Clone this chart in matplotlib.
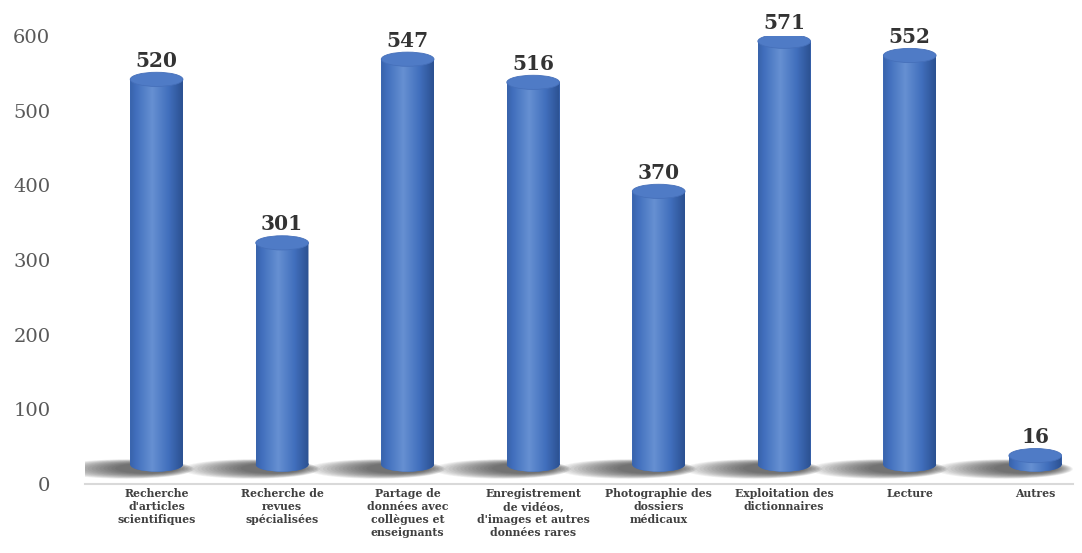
import matplotlib
matplotlib.use("Agg")
import matplotlib.pyplot as plt
from matplotlib.patches import Ellipse
from matplotlib.path import Path
import numpy as np

categories = [
    "Recherche\nd'articles\nscientifiques",
    "Recherche de\nrevues\nspécialisées",
    "Partage de\ndonnées avec\ncollègues et\nenseignants",
    "Enregistrement\nde vidéos,\nd'images et autres\ndonnées rares",
    "Photographie des\ndossiers\nmédicaux",
    "Exploitation des\ndictionnaires",
    "Lecture",
    "Autres",
]
values = [520, 301, 547, 516, 370, 571, 552, 16]

SERIF = ["DejaVu Serif"]
BAR_W = 0.42
DEPTH = 22      # décalage perspective (unités de données)
BASE = 26       # centre de l'ellipse du bas
ELL_H = 19      # hauteur des ellipses

fig = plt.figure(figsize=(10.82, 5.53), dpi=100)
ax = fig.add_axes([0.0786, 0.1248, 0.913, 0.810])

x = np.arange(len(values))

# dégradé horizontal du cylindre
grad = np.linspace(0, 1, 64)
shade = np.clip(1 - np.abs(grad - 0.42) * 1.6, 0, 1)
cmap = matplotlib.colors.LinearSegmentedColormap.from_list(
    "cyl", ["#284c8a", "#416fbd", "#6690d2"])

for xi, v in zip(x, values):
    top = v + DEPTH
    # ombre portée (traînée vers la gauche)
    for k in range(16):
        f = k / 15
        ax.add_patch(Ellipse((xi - 0.25 + 0.17 * f, BASE - 6 + 1 * f),
                             1.1 - 0.6 * f, 26 - 12 * f, color="#1a1a1a",
                             alpha=0.055, lw=0, zorder=1))
    body = ax.bar(xi, top - BASE, bottom=BASE, width=BAR_W, color="#4472c4",
                  lw=0, zorder=2)[0]
    img = ax.imshow(shade[np.newaxis, :], cmap=cmap, aspect="auto",
                    extent=[xi - BAR_W / 2, xi + BAR_W / 2, BASE - ELL_H / 2, top],
                    zorder=3, vmin=0, vmax=1)
    bottom_ell = Ellipse((xi, BASE), BAR_W, ELL_H, lw=0, color="#3d68b3",
                         zorder=2)
    ax.add_patch(bottom_ell)
    # clip : corps + ellipse du bas
    bp = body.get_path()
    bcodes = bp.codes if bp.codes is not None else \
        [Path.MOVETO] + [Path.LINETO] * (len(bp.vertices) - 2) + [Path.CLOSEPOLY]
    ep = bottom_ell.get_path()
    verts = np.concatenate([bp.transformed(body.get_patch_transform()).vertices,
                            ep.transformed(bottom_ell.get_patch_transform()).vertices])
    codes = np.concatenate([bcodes, ep.codes])
    img.set_clip_path(Path(verts, codes), ax.transData)
    ax.add_patch(Ellipse((xi, top), BAR_W, ELL_H, lw=0.6, facecolor="#4f7bc6",
                         edgecolor="#4670ba", zorder=4))
    ax.text(xi, v + 39, str(v), ha="center", va="baseline", fontsize=14.5,
            fontweight="bold", color="#333333", family=SERIF, zorder=5)

ax.set_xlim(-0.57, 7.3)
ax.set_ylim(0, 600)
ax.set_yticks([0, 100, 200, 300, 400, 500, 600])
ax.set_xticks(x)
ax.set_xticklabels(categories, fontsize=7.8, fontweight="bold", color="#404040",
                   family=SERIF, linespacing=1.2, va="top")
for lbl in ax.get_yticklabels():
    lbl.set_family(SERIF)
    lbl.set_fontsize(14)
    lbl.set_color("#595959")
ax.tick_params(axis="both", length=0)
ax.tick_params(axis="x", pad=3)
ax.tick_params(axis="y", pad=25)
for s in ["top", "right", "left"]:
    ax.spines[s].set_visible(False)
ax.spines["bottom"].set_color("#d9d9d9")
ax.spines["bottom"].set_linewidth(1.5)

fig.savefig("out.png", dpi=100)
